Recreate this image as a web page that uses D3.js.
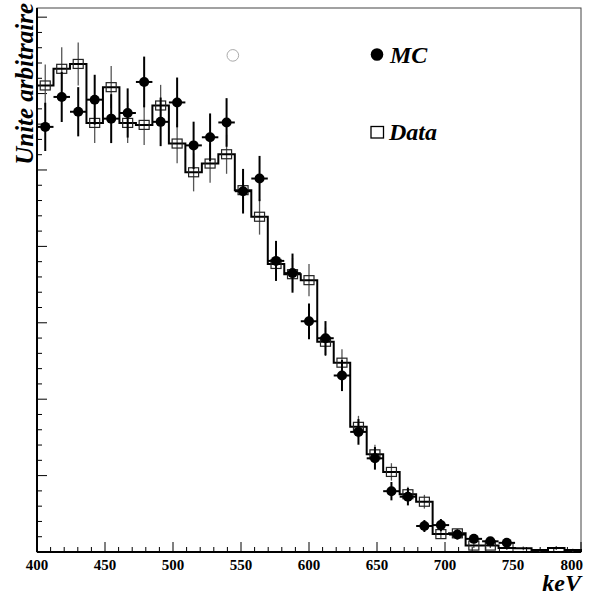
<!DOCTYPE html>
<html><head><meta charset="utf-8">
<script src="https://cdn.jsdelivr.net/npm/d3@7"></script>
<style>body{margin:0;background:#fff}</style>
</head><body><svg id="c" width="592" height="597"></svg>
<script>
// ---- data ----
const xDomain = [400, 800];
const yDomain = [0, 35.6];
const nBins = 33;
const xTickLabels = [400, 450, 500, 550, 600, 650, 700, 750, 800];
const mcValues = [27.82, 29.78, 28.81, 29.60, 28.36, 28.73, 30.76, 28.15, 29.42, 26.61, 27.14, 28.11, 23.61, 24.44, 19.05, 18.25, 15.10, 13.99, 11.55, 7.86, 6.13, 3.98, 3.62, 1.70, 1.76, 1.14, 0.86, 0.70, 0.60];
const mcErrors = [1.58, 1.64, 1.61, 1.63, 1.60, 1.61, 1.66, 1.59, 1.63, 1.55, 1.56, 1.59, 1.46, 1.48, 1.31, 1.28, 1.17, 1.12, 1.02, 0.84, 0.74, 0.60, 0.57, 0.39, 0.40, 0.32, 0.28, 0.25, 0.23];
const dataValues = [30.53, 31.62, 31.94, 28.08, 30.42, 28.08, 27.95, 29.22, 26.73, 24.85, 25.42, 26.03, 23.68, 21.94, 18.85, 18.18, 17.79, 13.76, 12.39, 8.19, 6.39, 5.24, 3.78, 3.29, 1.17, 1.22, 0.42, 0.42, 0.26, 0.24, 0.13, 0.26, 0.13];
const dataErrors = [1.38, 1.41, 1.41, 1.32, 1.38, 1.32, 1.32, 1.35, 1.29, 1.25, 1.26, 1.28, 1.22, 1.17, 1.09, 1.07, 1.05, 0.93, 0.88, 0.72, 0.63, 0.57, 0.49, 0.45, 0.27, 0.28, 0.16, 0.16, 0.13, 0.12, 0.09, 0.13, 0.09];
const legendLabels = ["MC", "Data"];
const strayMarker = [{x: 544, y: 32.5}];

// ---- layout ----
const L = 37, R = 581, T = 8, B = 552;
const svg = d3.select("#c");
const x = d3.scaleLinear().domain(xDomain).range([L, R]);
const y = d3.scaleLinear().domain(yDomain).range([B, T]);
const binW = (xDomain[1] - xDomain[0]) / nBins;
const edges = d3.range(nBins + 1).map(i => xDomain[0] + i * binW);
const center = i => xDomain[0] + (i + 0.5) * binW;
const serif = "'Liberation Serif','DejaVu Serif',serif";

svg.append("rect").attr("width", 592).attr("height", 597).attr("fill", "#fff");
// frame
svg.append("rect").attr("x", L).attr("y", T).attr("width", R - L).attr("height", B - T)
  .attr("fill", "none").attr("stroke", "#444").attr("stroke-width", 1);

// x axis ticks (inside, upward)
const xMinor = d3.range(xDomain[0], xDomain[1] + 0.001, 10);
svg.append("g").selectAll("line").data(xMinor).join("line")
  .attr("x1", d => x(d)).attr("x2", d => x(d))
  .attr("y1", B).attr("y2", d => B - (d % 50 === 0 ? 10 : 5))
  .attr("stroke", "#000").attr("stroke-width", 1);
svg.append("g").selectAll("text").data(xTickLabels).join("text")
  .attr("x", d => d === xDomain[1] ? x(d) + 2 : x(d))
  .attr("y", 570)
  .attr("text-anchor", d => d === xDomain[1] ? "end" : "middle")
  .attr("font-family", serif).attr("font-weight", "bold").attr("font-size", 15)
  .text(d => d);

// y axis ticks (inside, rightward)
const yMinor = d3.range(0, 36, 1);
svg.append("g").selectAll("line").data(yMinor).join("line")
  .attr("x1", L).attr("x2", d => L + (d % 5 === 0 ? 10 : 5))
  .attr("y1", d => y(d)).attr("y2", d => y(d))
  .attr("stroke", "#000").attr("stroke-width", 1);

// axis lines
svg.append("line").attr("x1", L).attr("x2", R).attr("y1", B).attr("y2", B).attr("stroke", "#000").attr("stroke-width", 2);
svg.append("line").attr("x1", L).attr("x2", L).attr("y1", T).attr("y2", B).attr("stroke", "#000").attr("stroke-width", 2);

// axis titles
svg.append("text").attr("x", R).attr("y", 591).attr("text-anchor", "end")
  .attr("font-family", serif).attr("font-weight", "bold").attr("font-style", "italic").attr("font-size", 24)
  .text("keV");
svg.append("text").attr("transform", "translate(33,3) rotate(-90)").attr("text-anchor", "end")
  .attr("font-family", serif).attr("font-weight", "bold").attr("font-style", "italic").attr("font-size", 25)
  .text("Unite arbitraire");

const plot = svg.append("g");

// data error bars
plot.append("g").selectAll("line").data(dataValues).join("line")
  .attr("x1", (d, i) => x(center(i))).attr("x2", (d, i) => x(center(i)))
  .attr("y1", (d, i) => y(d - dataErrors[i])).attr("y2", (d, i) => y(d + dataErrors[i]))
  .attr("stroke", "#555").attr("stroke-width", 1.3);

// data step histogram
const stepPath = [[edges[0], 0]];
dataValues.forEach((v, i) => { stepPath.push([edges[i], v]); stepPath.push([edges[i + 1], v]); });
stepPath.push([edges[nBins], 0]);
plot.append("path").datum(stepPath)
  .attr("d", d3.line().x(d => x(d[0])).y(d => y(d[1])))
  .attr("fill", "none").attr("stroke", "#000").attr("stroke-width", 2);

// data markers (open squares)
plot.append("g").selectAll("rect").data(dataValues.map((v, i) => ({v, i})).filter(d => d.v > 0.3)).join("rect")
  .attr("x", d => x(center(d.i)) - 5).attr("y", d => y(d.v) - 4.5)
  .attr("width", 10).attr("height", 9)
  .attr("fill", "none").attr("stroke", "#222").attr("stroke-width", 1.2);

// MC error bars
const mc = plot.append("g");
mc.selectAll("line.v").data(mcValues).join("line").attr("class", "v")
  .attr("x1", (d, i) => x(center(i))).attr("x2", (d, i) => x(center(i)))
  .attr("y1", (d, i) => y(d - mcErrors[i])).attr("y2", (d, i) => y(d + mcErrors[i]))
  .attr("stroke", "#000").attr("stroke-width", 2);
mc.selectAll("line.h").data(mcValues).join("line").attr("class", "h")
  .attr("x1", (d, i) => x(edges[i])).attr("x2", (d, i) => x(edges[i + 1]))
  .attr("y1", d => y(d)).attr("y2", d => y(d))
  .attr("stroke", "#000").attr("stroke-width", 2);
mc.selectAll("circle").data(mcValues).join("circle")
  .attr("cx", (d, i) => x(center(i))).attr("cy", d => y(d)).attr("r", 5)
  .attr("fill", "#000");

// stray open circle
svg.append("g").selectAll("circle").data(strayMarker).join("circle")
  .attr("cx", d => x(d.x)).attr("cy", d => y(d.y)).attr("r", 5.8)
  .attr("fill", "none").attr("stroke", "#aaa").attr("stroke-width", 1);

// legend
const leg = svg.append("g");
leg.append("circle").attr("cx", 377).attr("cy", 54.5).attr("r", 6.3).attr("fill", "#000");
leg.append("rect").attr("x", 371).attr("y", 126.5).attr("width", 12.5).attr("height", 11.5)
  .attr("fill", "none").attr("stroke", "#000").attr("stroke-width", 1.3);
leg.selectAll("text").data(legendLabels).join("text")
  .attr("x", (d, i) => i === 0 ? 390 : 389).attr("y", (d, i) => i === 0 ? 62.5 : 140)
  .attr("font-family", serif).attr("font-weight", "bold").attr("font-style", "italic").attr("font-size", 24)
  .text(d => d);
</script>
</body></html>
